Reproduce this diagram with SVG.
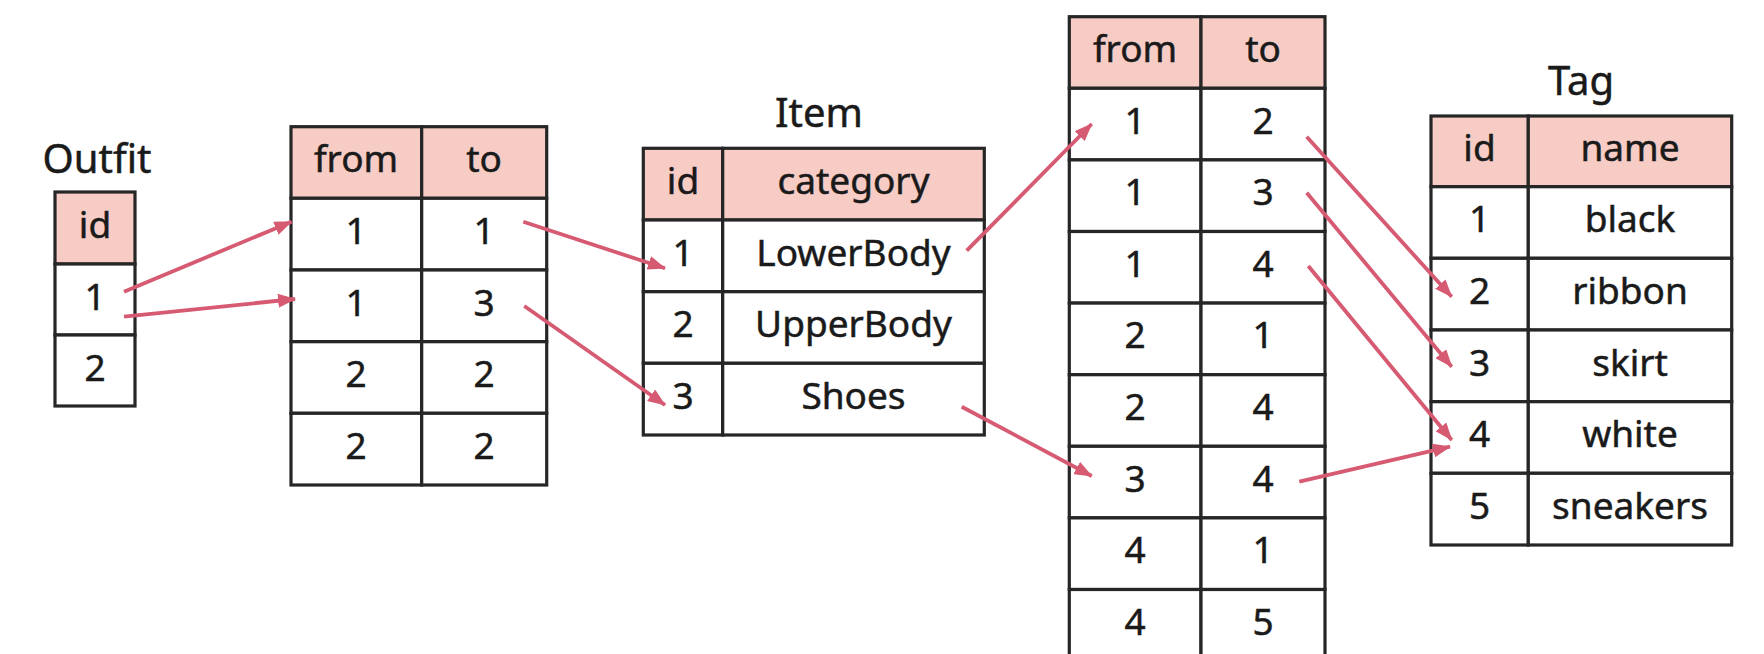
<svg xmlns="http://www.w3.org/2000/svg" width="1764" height="654" viewBox="0 0 1764 654">
  <style>
    .cell { fill: #ffffff; stroke: #262626; stroke-width: 3.2; }
    .head { fill: #f7ccc5; stroke: #262626; stroke-width: 3.2; }
    .txt { font-family: "Noto Sans", "DejaVu Sans", sans-serif; font-size: 37px; fill: #1a1a1a; stroke: #1a1a1a; stroke-width: 0.5; text-anchor: middle; }
    .title { font-family: "Noto Sans", "DejaVu Sans", sans-serif; font-size: 40px; fill: #1a1a1a; stroke: #1a1a1a; stroke-width: 0.5; text-anchor: middle; }
    .link { stroke: #d65a72; stroke-width: 3.8; fill: none; marker-end: url(#arrow); }
  </style>
  <defs>
    <marker id="arrow" viewBox="0 0 18 14" refX="17" refY="7" markerWidth="18" markerHeight="14" markerUnits="userSpaceOnUse" orient="auto">
      <path d="M0,0 L18,7 L0,14 z" fill="#d65a72"/>
    </marker>
  </defs>
  <rect width="1764" height="654" fill="#ffffff"/>

  <!-- Outfit -->
  <g id="outfit">
    <text class="title" x="97" y="173">Outfit</text>
    <rect class="head" x="55" y="192" width="80" height="72"/>
    <rect class="cell" x="55" y="264" width="80" height="71"/>
    <rect class="cell" x="55" y="335" width="80" height="71"/>
    <text class="txt" x="95" y="238">id</text>
    <text class="txt" x="95" y="310">1</text>
    <text class="txt" x="95" y="381">2</text>
  </g>

  <!-- Outfit to Item join table -->
  <g id="outfit-item">
    <rect class="head" x="291" y="126.7" width="130.7" height="71.6"/>
    <rect class="head" x="421.7" y="126.7" width="125" height="71.6"/>
    <rect class="cell" x="291" y="198.3" width="130.7" height="71.7"/>
    <rect class="cell" x="421.7" y="198.3" width="125" height="71.7"/>
    <rect class="cell" x="291" y="270" width="130.7" height="71.7"/>
    <rect class="cell" x="421.7" y="270" width="125" height="71.7"/>
    <rect class="cell" x="291" y="341.7" width="130.7" height="71.6"/>
    <rect class="cell" x="421.7" y="341.7" width="125" height="71.6"/>
    <rect class="cell" x="291" y="413.3" width="130.7" height="71.7"/>
    <rect class="cell" x="421.7" y="413.3" width="125" height="71.7"/>
    <text class="txt" x="356" y="172">from</text>
    <text class="txt" x="484" y="172">to</text>
    <text class="txt" x="356" y="244">1</text>
    <text class="txt" x="484" y="244">1</text>
    <text class="txt" x="356" y="316">1</text>
    <text class="txt" x="484" y="316">3</text>
    <text class="txt" x="356" y="387">2</text>
    <text class="txt" x="484" y="387">2</text>
    <text class="txt" x="356" y="459">2</text>
    <text class="txt" x="484" y="459">2</text>
  </g>

  <!-- Item -->
  <g id="item">
    <text class="title" x="819" y="127">Item</text>
    <rect class="head" x="643.3" y="148.3" width="79.4" height="71.7"/>
    <rect class="head" x="722.7" y="148.3" width="261.6" height="71.7"/>
    <rect class="cell" x="643.3" y="220" width="79.4" height="71.7"/>
    <rect class="cell" x="722.7" y="220" width="261.6" height="71.7"/>
    <rect class="cell" x="643.3" y="291.7" width="79.4" height="71.6"/>
    <rect class="cell" x="722.7" y="291.7" width="261.6" height="71.6"/>
    <rect class="cell" x="643.3" y="363.3" width="79.4" height="71.7"/>
    <rect class="cell" x="722.7" y="363.3" width="261.6" height="71.7"/>
    <text class="txt" x="683" y="194">id</text>
    <text class="txt" x="853.5" y="194">category</text>
    <text class="txt" x="683" y="266">1</text>
    <text class="txt" x="853.5" y="266">LowerBody</text>
    <text class="txt" x="683" y="337">2</text>
    <text class="txt" x="853.5" y="337">UpperBody</text>
    <text class="txt" x="683" y="409">3</text>
    <text class="txt" x="853.5" y="409">Shoes</text>
  </g>

  <!-- Item to Tag join table -->
  <g id="item-tag">
    <rect class="head" x="1069.3" y="16.7" width="131.7" height="71.6"/>
    <rect class="head" x="1201" y="16.7" width="124" height="71.6"/>
    <rect class="cell" x="1069.3" y="88.3" width="131.7" height="71.6"/>
    <rect class="cell" x="1201" y="88.3" width="124" height="71.6"/>
    <rect class="cell" x="1069.3" y="159.9" width="131.7" height="71.6"/>
    <rect class="cell" x="1201" y="159.9" width="124" height="71.6"/>
    <rect class="cell" x="1069.3" y="231.5" width="131.7" height="71.6"/>
    <rect class="cell" x="1201" y="231.5" width="124" height="71.6"/>
    <rect class="cell" x="1069.3" y="303.1" width="131.7" height="71.6"/>
    <rect class="cell" x="1201" y="303.1" width="124" height="71.6"/>
    <rect class="cell" x="1069.3" y="374.7" width="131.7" height="71.6"/>
    <rect class="cell" x="1201" y="374.7" width="124" height="71.6"/>
    <rect class="cell" x="1069.3" y="446.3" width="131.7" height="71.6"/>
    <rect class="cell" x="1201" y="446.3" width="124" height="71.6"/>
    <rect class="cell" x="1069.3" y="517.9" width="131.7" height="71.6"/>
    <rect class="cell" x="1201" y="517.9" width="124" height="71.6"/>
    <rect class="cell" x="1069.3" y="589.5" width="131.7" height="71.6"/>
    <rect class="cell" x="1201" y="589.5" width="124" height="71.6"/>
    <text class="txt" x="1135" y="62">from</text>
    <text class="txt" x="1263" y="62">to</text>
    <text class="txt" x="1135" y="134">1</text>
    <text class="txt" x="1263" y="134">2</text>
    <text class="txt" x="1135" y="205">1</text>
    <text class="txt" x="1263" y="205">3</text>
    <text class="txt" x="1135" y="277">1</text>
    <text class="txt" x="1263" y="277">4</text>
    <text class="txt" x="1135" y="348">2</text>
    <text class="txt" x="1263" y="348">1</text>
    <text class="txt" x="1135" y="420">2</text>
    <text class="txt" x="1263" y="420">4</text>
    <text class="txt" x="1135" y="492">3</text>
    <text class="txt" x="1263" y="492">4</text>
    <text class="txt" x="1135" y="563">4</text>
    <text class="txt" x="1263" y="563">1</text>
    <text class="txt" x="1135" y="635">4</text>
    <text class="txt" x="1263" y="635">5</text>
  </g>

  <!-- Tag -->
  <g id="tag">
    <text class="title" x="1581" y="95">Tag</text>
    <rect class="head" x="1431" y="116" width="97.3" height="70.7"/>
    <rect class="head" x="1528.3" y="116" width="203.4" height="70.7"/>
    <rect class="cell" x="1431" y="186.7" width="97.3" height="71.6"/>
    <rect class="cell" x="1528.3" y="186.7" width="203.4" height="71.6"/>
    <rect class="cell" x="1431" y="258.3" width="97.3" height="71.7"/>
    <rect class="cell" x="1528.3" y="258.3" width="203.4" height="71.7"/>
    <rect class="cell" x="1431" y="330" width="97.3" height="71.7"/>
    <rect class="cell" x="1528.3" y="330" width="203.4" height="71.7"/>
    <rect class="cell" x="1431" y="401.7" width="97.3" height="71.6"/>
    <rect class="cell" x="1528.3" y="401.7" width="203.4" height="71.6"/>
    <rect class="cell" x="1431" y="473.3" width="97.3" height="71.7"/>
    <rect class="cell" x="1528.3" y="473.3" width="203.4" height="71.7"/>
    <text class="txt" x="1479.5" y="161">id</text>
    <text class="txt" x="1630" y="161">name</text>
    <text class="txt" x="1479.5" y="232">1</text>
    <text class="txt" x="1630" y="232">black</text>
    <text class="txt" x="1479.5" y="304">2</text>
    <text class="txt" x="1630" y="304">ribbon</text>
    <text class="txt" x="1479.5" y="376">3</text>
    <text class="txt" x="1630" y="376">skirt</text>
    <text class="txt" x="1479.5" y="447">4</text>
    <text class="txt" x="1630" y="447">white</text>
    <text class="txt" x="1479.5" y="519">5</text>
    <text class="txt" x="1630" y="519">sneakers</text>
  </g>

  <!-- Connectors -->
  <g id="connectors">
    <line class="link" x1="124" y1="291.7" x2="291.5" y2="221.7"/>
    <line class="link" x1="124" y1="316.7" x2="295" y2="299"/>
    <line class="link" x1="523.3" y1="221.7" x2="665" y2="268.3"/>
    <line class="link" x1="524.3" y1="306" x2="665" y2="405"/>
    <line class="link" x1="966.7" y1="250.7" x2="1091.7" y2="124"/>
    <line class="link" x1="961.7" y1="406.7" x2="1091.7" y2="476"/>
    <line class="link" x1="1306.7" y1="136.7" x2="1451.7" y2="296.7"/>
    <line class="link" x1="1306.7" y1="192.7" x2="1451.7" y2="366.7"/>
    <line class="link" x1="1308.3" y1="266" x2="1451.7" y2="440"/>
    <line class="link" x1="1299.3" y1="481.7" x2="1450" y2="446.7"/>
  </g>
</svg>
